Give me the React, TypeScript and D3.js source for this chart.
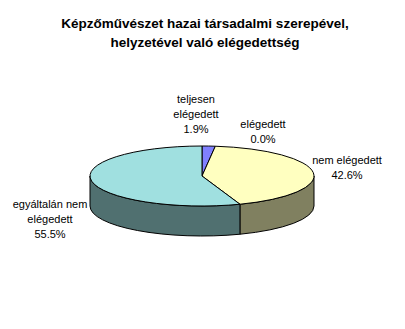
import React from "react";
import * as d3 from "d3";

const categories = ["teljesen elégedett", "elégedett", "nem elégedett", "egyáltalán nem elégedett"];
const values = [1.9, 0.0, 42.6, 55.5];
const labelLines = [["teljesen", "elégedett", "1.9%"], ["elégedett", "0.0%"], ["nem elégedett", "42.6%"], ["egyáltalán nem", "elégedett", "55.5%"]];
const titleLines = ["Képzőművészet hazai társadalmi szerepével,", "helyzetével való elégedettség"];

const topColors = ["#8080FF", "#802060", "#FFFFC0", "#A0E0E0"];
const sideColors = ["#404080", "#401030", "#808060", "#507070"];
// label anchor (center x, first baseline y)
const labelAnchors = [[196, 103], [263, 128], [347, 164], [50, 208]];

const W = 405, H = 329;
const cx = 202, cy = 176, rx = 112, ry = 30, depth = 30;

function pt(a: number, dy = 0): [number, number] {
  return [cx + rx * Math.sin(a), cy - ry * Math.cos(a) + dy];
}

export default function App() {
  const pie = d3.pie<number>().sort(null).value((d) => d).startAngle(0).endAngle(2 * Math.PI);
  const arcs = pie(values);
  const font = "'Liberation Sans', Arial, sans-serif";

  const sides: JSX.Element[] = [];
  arcs.forEach((a, i) => {
    const s = Math.max(a.startAngle, Math.PI / 2);
    const e = Math.min(a.endAngle, (3 * Math.PI) / 2);
    if (e - s <= 0) return;
    const p1 = pt(s), p2 = pt(e), p3 = pt(e, depth), p4 = pt(s, depth);
    const d = `M${p1[0]},${p1[1]} A${rx},${ry} 0 0 1 ${p2[0]},${p2[1]} L${p3[0]},${p3[1]} A${rx},${ry} 0 0 0 ${p4[0]},${p4[1]} Z`;
    sides.push(<path key={"s" + i} d={d} fill={sideColors[i]} stroke="#000" strokeWidth={1} strokeLinejoin="round" />);
  });

  const tops: JSX.Element[] = [];
  arcs.forEach((a, i) => {
    if (a.endAngle - a.startAngle <= 0) return;
    const p1 = pt(a.startAngle), p2 = pt(a.endAngle);
    const large = a.endAngle - a.startAngle > Math.PI ? 1 : 0;
    const d = `M${cx},${cy} L${p1[0]},${p1[1]} A${rx},${ry} 0 ${large} 1 ${p2[0]},${p2[1]} Z`;
    tops.push(<path key={"t" + i} d={d} fill={topColors[i]} stroke="#000" strokeWidth={1} strokeLinejoin="round" />);
  });

  return (
    <svg width={W} height={H} style={{ position: "absolute", left: 0, top: 0, background: "#fff" }}>
      <rect x={0} y={0} width={W} height={H} fill="#fff" />
      {titleLines.map((t, i) => (
        <text key={t} x={205} y={28 + i * 19} textAnchor="middle" fontFamily={font} fontWeight="bold" fontSize={13.5} fill="#000">
          {t}
        </text>
      ))}
      {sides}
      {tops}
      {labelLines.map((lines, i) => (
        <text key={categories[i]} fontFamily={font} fontSize={11} fill="#000" textAnchor="middle">
          {lines.map((l, j) => (
            <tspan key={j} x={labelAnchors[i][0]} y={labelAnchors[i][1] + j * 15}>
              {l}
            </tspan>
          ))}
        </text>
      ))}
    </svg>
  );
}
